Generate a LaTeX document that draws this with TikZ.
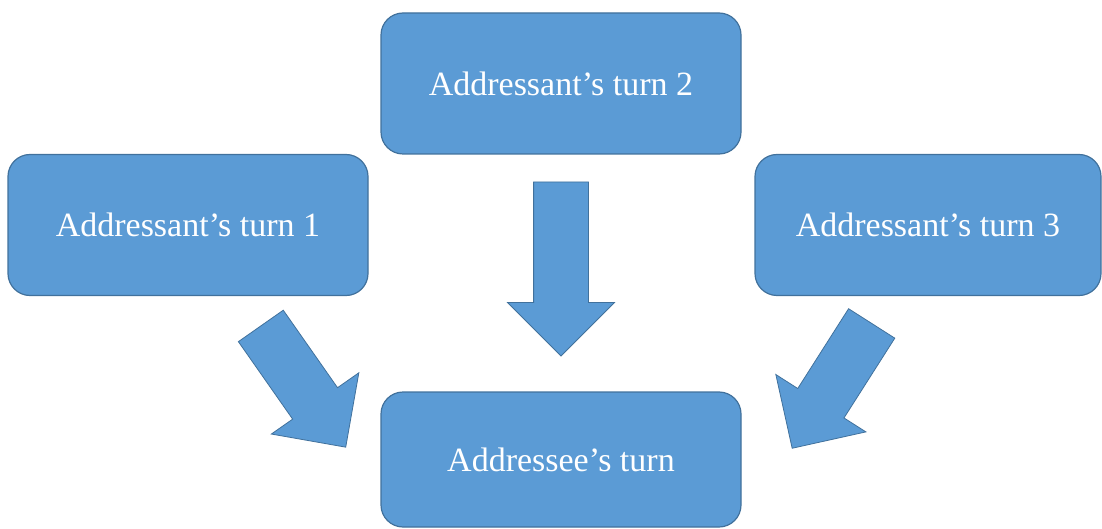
\documentclass[tikz,border=0pt]{standalone}
\usepackage{fontspec}
\setmainfont{Liberation Serif}
\usetikzlibrary{shapes.arrows,positioning}
\definecolor{turnfill}{HTML}{5B9BD5}
\definecolor{turnline}{HTML}{41719C}

\begin{document}
\begin{tikzpicture}[x=1pt, y=1pt]

    \tikzstyle{turn}=[
        draw = turnline,
        fill = turnfill,
        line width = 1.2pt,
        rounded corners = 22pt,
        text = white,
        font = \fontsize{34}{40}\selectfont,
        minimum width = 360pt,
        minimum height = 141pt
    ]
    \tikzset{blk/.style={single arrow, draw=turnline, fill=turnfill,
        line width=0.8pt, inner xsep=0pt, inner ysep=27pt, text height=0pt,
        text depth=0pt, single arrow head extend=26pt, anchor=tail}}

    \useasboundingbox (0,0) rectangle (1102,528);

    \node[turn] (t2) at (561,444.5) {Addressant’s turn 2};
    \node[turn] (t1) at (188,303) {Addressant’s turn 1};
    \node[turn, minimum width=346pt] (t3) at (928,303) {Addressant’s turn 3};
    \node[turn, minimum height=135pt] (t0) at (561,68.5) {Addressee’s turn};

    % block arrows into the addressee's turn
    \node[blk, minimum height=174pt, rotate=-90] (a2) at ([yshift=-27pt]t2.south) {};
    \node[blk, minimum height=148pt, rotate=-55] (a1) at ([shift={(-108,-29.5)}]t1.south east) {};
    \node[blk, minimum height=148pt, rotate=-122.5] (a3) at ([shift={(117.5,-27)}]t3.south west) {};

\end{tikzpicture}
\end{document}
